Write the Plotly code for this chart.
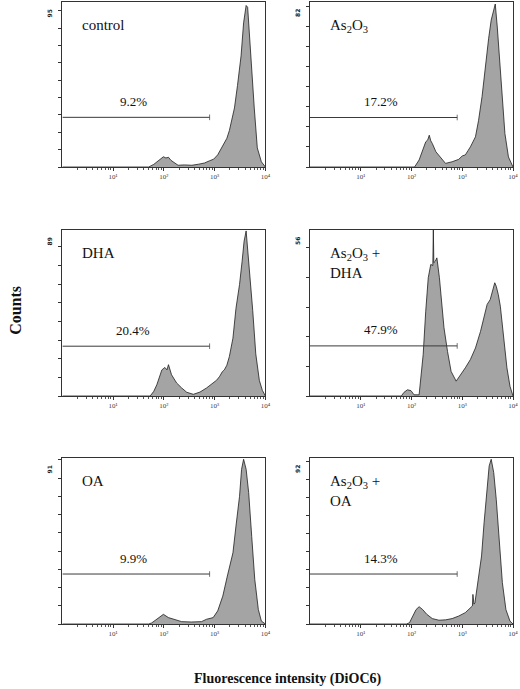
import plotly.graph_objects as go

# six DiOC6 histograms: x in log10 decades, y in counts
titles = ["control", "As<sub>2</sub>O<sub>3</sub>", "DHA",
          "As<sub>2</sub>O<sub>3</sub> +<br>DHA", "OA", "As<sub>2</sub>O<sub>3</sub> +<br>OA"]
y_max = [95, 82, 89, 56, 91, 92]
gate_pct = ["9.2%", "17.2%", "20.4%", "47.9%", "9.9%", "14.3%"]
gate_level = [28.6, 24.6, 26.7, 16.9, 27.4, 27.7]
gate_end_dec = 2.9

control_dec = [0.0, 1.70, 1.80, 1.88, 1.95, 1.99, 2.04, 2.09, 2.14, 2.20, 2.28, 2.40, 2.55,
               2.68, 2.80, 2.90, 2.98, 3.06, 3.13, 3.19, 3.24, 3.29, 3.34, 3.39, 3.45,
               3.52, 3.57, 3.60, 3.62, 3.65, 3.68, 3.73, 3.78, 3.84, 3.92, 4.0]
control_counts = [0, 0, 1.5, 3.2, 5.0, 5.9, 5.2, 5.6, 3.8, 2.6, 1.0, 1.2, 1.0,
                  1.6, 2.3, 3.6, 4.5, 7.0, 10.5, 13.7, 16.5, 21, 27, 34, 47,
                  64, 83, 88, 93, 92, 78, 57, 34, 11, 3, 0]

as2o3_dec = [0.0, 2.06, 2.15, 2.22, 2.28, 2.32, 2.35, 2.38, 2.41, 2.48, 2.58, 2.67, 2.80,
             2.93, 3.00, 3.06, 3.11, 3.16, 3.26, 3.32, 3.39, 3.45, 3.52, 3.57, 3.62,
             3.65, 3.69, 3.73, 3.78, 3.84, 3.91, 3.98, 4.0]
as2o3_counts = [0, 0, 3.5, 8.4, 12.5, 13.5, 15.8, 13.0, 11.7, 7.6, 4.3, 1.8, 2.6,
                3.8, 5.5, 6.0, 8.0, 10, 15, 23, 35, 50, 64, 73, 79,
                81, 69.6, 56, 36.5, 16.7, 5, 1, 0]

dha_dec = [0.0, 1.73, 1.80, 1.86, 1.96, 2.02, 2.06, 2.09, 2.15, 2.25, 2.35, 2.45, 2.58,
           2.71, 2.84, 2.97, 3.04, 3.10, 3.15, 3.19, 3.24, 3.29, 3.36, 3.42, 3.49,
           3.54, 3.58, 3.62, 3.65, 3.69, 3.75, 3.81, 3.88, 3.94, 4.0]
dha_counts = [0, 0, 2.5, 6, 14, 15.3, 14.0, 16.8, 11.4, 7, 4.3, 2, 0.9,
              2.1, 4.3, 7, 8.5, 10.6, 13.0, 14, 16.5, 21.2, 31, 47, 59.8,
              72, 83, 88.5, 79.6, 65.4, 45.8, 22.6, 8.4, 3, 0]

as2o3_dha_dec = [0.0, 1.80, 1.85, 1.92, 1.99, 2.05, 2.15, 2.19, 2.23, 2.28, 2.33, 2.38,
                 2.42, 2.43, 2.44, 2.47, 2.50, 2.55, 2.60, 2.64, 2.71, 2.78, 2.88, 2.97,
                 3.06, 3.16, 3.26, 3.36, 3.44, 3.49, 3.55, 3.60, 3.64, 3.67, 3.71, 3.75,
                 3.81, 3.88, 3.94, 3.99, 4.0]
as2o3_dha_counts = [0, 0, 1.2, 2.1, 1.8, 0.4, 0.4, 7.2, 14, 28.6, 39.9, 44.4,
                    44, 56, 45, 45.5, 46.6, 39.9, 30.9, 23, 15, 8.3, 5, 7.2,
                    9.5, 12.3, 16.2, 21.8, 27.5, 30.9, 32.5, 35.4, 38.2, 37, 34.2, 30.3,
                    19.6, 9.5, 3.3, 0.5, 0]

oa_dec = [0.0, 1.70, 1.76, 1.86, 1.93, 1.99, 2.09, 2.22, 2.35, 2.54, 2.74, 2.84, 2.97,
          3.06, 3.16, 3.25, 3.36, 3.42, 3.49, 3.53, 3.57, 3.62, 3.67, 3.73, 3.79,
          3.86, 3.92, 4.0]
oa_counts = [0, 0, 0.6, 2.6, 4.0, 5.3, 3.5, 2.2, 1.3, 1.1, 1.3, 2.6, 3.5,
             7.2, 15.3, 26.3, 39, 53.7, 70, 84.8, 90.3, 84.8, 72, 48, 24.5,
             8, 1.6, 0]

as2o3_oa_dec = [0.0, 1.90, 1.96, 2.02, 2.09, 2.15, 2.22, 2.30, 2.41, 2.54, 2.67, 2.80,
                2.93, 3.06, 3.16, 3.20, 3.21, 3.23, 3.25, 3.31, 3.38, 3.43, 3.49, 3.53,
                3.57, 3.62, 3.67, 3.73, 3.79, 3.86, 3.94, 4.0]
as2o3_oa_counts = [0, 0, 0.7, 4.4, 8, 9.6, 8, 5.4, 3, 2.1, 2.3, 3,
                   4.4, 6.3, 9, 10, 16.4, 11, 11.8, 22.9, 37.7, 56.2, 72.8, 87.6,
                   91.3, 83.9, 69, 46.8, 22.9, 8, 1.6, 0]

hist_dec = [control_dec, as2o3_dec, dha_dec, as2o3_dha_dec, oa_dec, as2o3_oa_dec]
hist_counts = [control_counts, as2o3_counts, dha_counts, as2o3_dha_counts, oa_counts, as2o3_oa_counts]

W, H = 520, 689
col_px = [(63, 268), (313, 518)]
row_px = [(2, 167), (230, 396), (458, 624)]
serif = "Liberation Serif"

fig = go.Figure()
annotations = []

for i in range(6):
    sfx = "" if i == 0 else str(i + 1)
    r, c = divmod(i, 2)
    xs = [10 ** d for d in hist_dec[i]]
    fig.add_trace(go.Scatter(
        x=xs, y=hist_counts[i], mode="lines", fill="tozeroy",
        fillcolor="#a4a4a4", line=dict(color="#1e1e1e", width=0.8),
        xaxis=f"x{sfx}", yaxis=f"y{sfx}", showlegend=False, hoverinfo="skip",
    ))
    # marker gate
    fig.add_trace(go.Scatter(
        x=[1, 10 ** gate_end_dec], y=[gate_level[i]] * 2, mode="lines+markers",
        line=dict(color="#3a3a3a", width=1),
        marker=dict(symbol="line-ns", size=[0, 4], line=dict(color="#3a3a3a", width=1)),
        xaxis=f"x{sfx}", yaxis=f"y{sfx}", showlegend=False, hoverinfo="skip",
    ))

    x0, x1 = col_px[c]
    y0, y1 = row_px[r]
    minor_vals = [k * 10 ** d for d in range(4) for k in range(2, 10)]
    fig.layout[f"xaxis{sfx}"] = dict(
        domain=[x0 / W, x1 / W], anchor=f"y{sfx}", type="log", range=[0, 4],
        tickvals=[10, 100, 1000, 10000], ticktext=["10¹", "10²", "10³", "10⁴"],
        ticks="outside", ticklen=3, tickcolor="#333", tickwidth=0.8,
        minor=dict(tickvals=minor_vals, ticks="outside", ticklen=2,
                   tickcolor="#555", tickwidth=0.6),
        tickfont=dict(family=serif, size=7, color="#444"),
        showline=True, linecolor="#333", linewidth=1, mirror=True,
        showgrid=False, zeroline=False, fixedrange=True,
    )
    fig.layout[f"yaxis{sfx}"] = dict(
        domain=[1 - y1 / H, 1 - y0 / H], anchor=f"x{sfx}", range=[0, y_max[i]],
        tickvals=list(range(0, y_max[i], 10)), showticklabels=False,
        ticks="outside", ticklen=3, tickcolor="#333", tickwidth=0.8,
        showline=True, linecolor="#333", linewidth=1, mirror=True,
        showgrid=False, zeroline=False, fixedrange=True,
    )

    annotations.append(dict(
        text=titles[i], xref=f"x{sfx} domain", yref=f"y{sfx} domain",
        x=0.088, y=1 - 13 / 166, xanchor="left", yanchor="top", align="left",
        showarrow=False, font=dict(family=serif, size=15, color="#111"),
    ))
    annotations.append(dict(
        text=gate_pct[i], xref=f"x{sfx}", yref=f"y{sfx}", x=1.4, y=gate_level[i],
        yshift=16, xanchor="center", yanchor="middle", showarrow=False,
        font=dict(family=serif, size=13, color="#111"),
    ))
    annotations.append(dict(
        text=f"<b>{y_max[i]}</b>", xref=f"x{sfx} domain", yref=f"y{sfx} domain",
        x=0, y=1, xshift=-13, yshift=-11, textangle=-90, showarrow=False,
        xanchor="center", yanchor="middle",
        font=dict(family="DejaVu Sans", size=6, color="#222"),
    ))

annotations.append(dict(
    text="<b>Counts</b>", xref="paper", yref="paper", x=15 / W, y=1 - 310 / H,
    textangle=-90, showarrow=False, xanchor="center", yanchor="middle",
    font=dict(family=serif, size=16, color="#111"),
))
annotations.append(dict(
    text="<b>Fluorescence intensity (DiOC6)</b>", xref="paper", yref="paper",
    x=290 / W, y=1 - 679 / H, showarrow=False, xanchor="center", yanchor="middle",
    font=dict(family=serif, size=14, color="#111"),
))

fig.update_layout(
    width=W, height=H, margin=dict(l=0, r=0, t=0, b=0),
    paper_bgcolor="white", plot_bgcolor="white",
    annotations=annotations,
)

# drop the page's default body margin so the figure sits at the window corner
fig.write_html("out.html", config={"displayModeBar": False},
               post_script="document.body.style.margin = '0';")
